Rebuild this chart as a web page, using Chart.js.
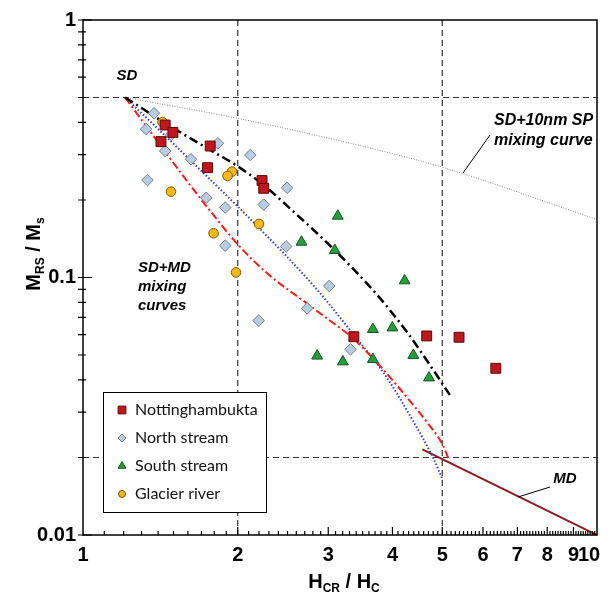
<!DOCTYPE html>
<html>
<head>
<meta charset="utf-8">
<script src="https://cdn.jsdelivr.net/npm/chart.js@4.4.1/dist/chart.umd.min.js"></script>
<style>
  html, body { margin: 0; padding: 0; background: #fff; }
  #wrap { width: 612px; height: 595px; }
</style>
</head>
<body>
<div id="wrap"><canvas id="dayPlot" width="612" height="595"></canvas></div>
<script>
// Day plot: Mrs/Ms against Hcr/Hc, log-log

// ─── Sample data ─────────────────────────────────────────────────────────────
const NOTT_X = [1.445, 1.496, 1.418, 1.768, 1.747, 2.23, 2.247, 3.365, 4.663, 5.39, 6.355];
const NOTT_Y = [0.391, 0.366, 0.337, 0.324, 0.267, 0.238, 0.222, 0.0589, 0.0593, 0.0586, 0.0444];

const NORTH_X = [1.375, 1.327, 1.484, 1.445, 1.83, 1.622, 2.116, 1.335, 1.737, 1.891, 2.247, 2.495, 1.891, 2.484, 3.013, 2.73, 2.197, 3.315];
const NORTH_Y = [0.434, 0.377, 0.358, 0.310, 0.332, 0.288, 0.299, 0.239, 0.204, 0.187, 0.192, 0.223, 0.133, 0.132, 0.0927, 0.0759, 0.068, 0.0526];

const SOUTH_X = [3.131, 2.661, 3.09, 4.224, 3.664, 3.998, 2.855, 3.203, 3.664, 4.392, 4.712];
const SOUTH_Y = [0.1733, 0.1373, 0.1275, 0.0972, 0.0629, 0.0638, 0.0496, 0.0471, 0.0481, 0.0499, 0.0408];

const GLACIER_X = [1.428, 1.949, 1.911, 1.483, 2.2, 1.795, 1.985];
const GLACIER_Y = [0.401, 0.2576, 0.248, 0.2155, 0.1614, 0.1485, 0.1047];

// ─── Mixing curves ───────────────────────────────────────────────────────────
const MIX_BLACK_X = [1.208, 1.465, 1.768, 1.996, 2.233, 2.649, 3.086, 3.737, 4.281, 4.789, 5.171];
const MIX_BLACK_Y = [0.5, 0.391, 0.3127, 0.271, 0.2307, 0.1702, 0.1279, 0.0855, 0.0609, 0.0441, 0.035];

const MIX_RED_X = [1.208, 1.381, 1.566, 1.768, 2.005, 2.315, 2.685, 3.03, 3.365, 3.845, 4.281, 4.684, 5.01, 5.146];
const MIX_RED_Y = [0.5, 0.348, 0.248, 0.1813, 0.1337, 0.1013, 0.0811, 0.0678, 0.0577, 0.0437, 0.034, 0.0272, 0.0224, 0.0197];

const MIX_BLUE_X = [1.208, 1.413, 1.653, 1.996, 2.454, 2.858, 3.365, 3.845, 4.398, 4.789, 5.01];
const MIX_BLUE_Y = [0.5, 0.3707, 0.2735, 0.1894, 0.1245, 0.0894, 0.0598, 0.0426, 0.0275, 0.0201, 0.0164];

const SP_X = [1.208, 2.0, 3.315, 5.0, 10];
const SP_Y = [0.5, 0.415, 0.332, 0.268, 0.168];

const MD_X = [4.574, 10];
const MD_Y = [0.0215, 0.01];

// ─── Axes ────────────────────────────────────────────────────────────────────
const X_MAJOR = [1, 2, 3, 4, 5, 6, 7, 8, 9, 10];
const Y_MAJOR = [0.01, 0.1, 1];
const Y_LABELS = ['0.01', '0.1', '1'];
const REF_X = [2, 5];        // SD / PSD / MD boundaries
const REF_Y = [0.5, 0.02];

const LEGEND = ['Nottinghambukta', 'North stream', 'South stream', 'Glacier river'];

const pts = (xs, ys) => xs.map((x, i) => ({ x, y: ys[i] }));

const BOLD = '"Liberation Sans", Arial, sans-serif';

function drawMarker(ctx, style, x, y, r, fill, stroke) {
  ctx.beginPath();
  if (style === 'rect') {
    const s = r * Math.SQRT1_2;
    ctx.rect(x - s, y - s, 2 * s, 2 * s);
  } else if (style === 'rectRot') {
    ctx.moveTo(x, y - r); ctx.lineTo(x + r, y); ctx.lineTo(x, y + r); ctx.lineTo(x - r, y);
    ctx.closePath();
  } else if (style === 'triangle') {
    for (let k = 0; k < 3; k++) {
      const a = k * 2 * Math.PI / 3;
      const px = x + Math.sin(a) * r, py = y - Math.cos(a) * r;
      k ? ctx.lineTo(px, py) : ctx.moveTo(px, py);
    }
    ctx.closePath();
  } else {
    ctx.arc(x, y, r, 0, Math.PI * 2);
  }
  ctx.fillStyle = fill; ctx.fill();
  ctx.lineWidth = 1; ctx.strokeStyle = stroke; ctx.stroke();
}

// text with subscripts, parts = [[text, isSub], ...], centred on x
function drawSubText(ctx, parts, x, y, size) {
  const big = `bold ${size}px ${BOLD}`, small = `bold ${Math.round(size * 0.62)}px ${BOLD}`;
  let w = 0;
  parts.forEach(([t, sub]) => { ctx.font = sub ? small : big; w += ctx.measureText(t).width; });
  let cx = x - w / 2;
  ctx.textAlign = 'left';
  ctx.textBaseline = 'alphabetic';
  parts.forEach(([t, sub]) => {
    ctx.font = sub ? small : big;
    ctx.fillText(t, cx, y + (sub ? 4 : 0));
    cx += ctx.measureText(t).width;
  });
}

const dayPlotDecor = {
  id: 'dayPlotDecor',
  beforeDatasetsDraw(chart) {
    const { ctx, chartArea: a, scales: { x, y } } = chart;
    ctx.save();
    ctx.strokeStyle = '#333';
    ctx.lineWidth = 1.2;
    ctx.setLineDash([6, 4]);
    ctx.beginPath();
    REF_X.forEach(v => { const p = x.getPixelForValue(v); ctx.moveTo(p, a.top); ctx.lineTo(p, a.bottom); });
    REF_Y.forEach(v => { const p = y.getPixelForValue(v); ctx.moveTo(a.left, p); ctx.lineTo(a.right, p); });
    ctx.stroke();
    ctx.restore();
  },
  afterDatasetsDraw(chart) {
    const { ctx, chartArea: a, scales: { x, y } } = chart;
    ctx.save();

    // frame
    ctx.strokeStyle = '#000';
    ctx.lineWidth = 1.5;
    ctx.strokeRect(a.left, a.top, a.right - a.left, a.bottom - a.top);

    // ticks
    ctx.lineWidth = 1.2;
    ctx.beginPath();
    for (let d = 1; d < 10; d++) {
      for (let k = 1; k < 10; k++) {
        const p = x.getPixelForValue(d + k / 10);
        ctx.moveTo(p, a.bottom); ctx.lineTo(p, a.bottom - 4);
      }
      if (d > 1) { const p = x.getPixelForValue(d); ctx.moveTo(p, a.bottom); ctx.lineTo(p, a.bottom - 8); }
    }
    [0.01, 0.1].forEach(dec => {
      for (let k = 2; k < 10; k++) {
        const p = y.getPixelForValue(dec * k);
        ctx.moveTo(a.left - 5, p); ctx.lineTo(a.left + 3, p);
      }
    });
    Y_MAJOR.forEach(v => { const p = y.getPixelForValue(v); ctx.moveTo(a.left - 5, p); ctx.lineTo(a.left + 9, p); });
    ctx.stroke();

    // tick labels
    ctx.fillStyle = '#000';
    ctx.font = `bold 20px ${BOLD}`;
    ctx.textAlign = 'right';
    ctx.textBaseline = 'middle';
    Y_MAJOR.forEach((v, i) => ctx.fillText(Y_LABELS[i], a.left - 7, y.getPixelForValue(v)));
    ctx.textAlign = 'center';
    X_MAJOR.forEach(v => {
      const p = x.getPixelForValue(v) - (v === 10 ? 8 : 0);
      ctx.fillText(String(v), p, a.bottom + 20);
    });

    // axis titles
    drawSubText(ctx, [['H', false], ['CR', true], [' / H', false], ['C', true]], 344, 588, 20);
    ctx.save();
    ctx.translate(40, 254);
    ctx.rotate(-Math.PI / 2);
    drawSubText(ctx, [['M', false], ['RS', true], [' / M', false], ['s', true]], 0, 0, 20);
    ctx.restore();

    // annotations
    ctx.font = `italic bold 15px ${BOLD}`;
    ctx.textAlign = 'center';
    ctx.textBaseline = 'middle';
    ctx.fillText('SD', 127, 76);
    ctx.fillText('MD', 565, 479);
    ctx.textAlign = 'left';
    ctx.fillText('SD+MD', 138, 268);
    ctx.fillText('mixing', 138, 287);
    ctx.fillText('curves', 138, 306);
    ctx.font = `italic bold 16px ${BOLD}`;
    ctx.fillText('SD+10nm SP', 494, 121);
    ctx.fillText('mixing curve', 494, 141);
    ctx.lineWidth = 1;
    ctx.beginPath();
    ctx.moveTo(490, 135); ctx.lineTo(463, 173);
    ctx.moveTo(518, 497); ctx.lineTo(550, 487);
    ctx.stroke();

    // legend
    ctx.fillStyle = '#fff';
    ctx.fillRect(103, 392, 163, 120);
    ctx.strokeStyle = '#000';
    ctx.lineWidth = 1;
    ctx.strokeRect(103.5, 392.5, 163, 120);
    ctx.font = '16px Lato, "Open Sans", sans-serif';
    ctx.textAlign = 'left';
    ctx.textBaseline = 'middle';
    const sizes = [5.5, 4, 4.5, 3.5];
    LEGEND.forEach((name, i) => {
      const ds = chart.data.datasets[i];
      const yy = 410 + i * 28;
      drawMarker(ctx, ds.pointStyle, 122, yy, sizes[i], ds.backgroundColor, ds.borderColor);
      ctx.fillStyle = '#111';
      ctx.fillText(name, 135, yy);
    });

    ctx.restore();
  }
};

const curve = (xs, ys, color, width, dash) => ({
  type: 'line',
  data: pts(xs, ys),
  borderColor: color,
  borderWidth: width,
  borderDash: dash,
  pointRadius: 0,
  fill: false,
  showLine: true,
  cubicInterpolationMode: 'monotone',
});

new Chart(document.getElementById('dayPlot'), {
  type: 'scatter',
  data: {
    datasets: [
      { label: LEGEND[0], data: pts(NOTT_X, NOTT_Y), pointStyle: 'rect', pointRadius: 7,
        backgroundColor: '#C0161C', borderColor: '#5A0A0A', borderWidth: 1 },
      { label: LEGEND[1], data: pts(NORTH_X, NORTH_Y), pointStyle: 'rectRot', pointRadius: 5.8,
        backgroundColor: '#B8CCE4', borderColor: '#7A7A7A', borderWidth: 1 },
      { label: LEGEND[2], data: pts(SOUTH_X, SOUTH_Y), pointStyle: 'triangle', pointRadius: 6.3,
        backgroundColor: '#1FA23A', borderColor: '#1C4F22', borderWidth: 1 },
      { label: LEGEND[3], data: pts(GLACIER_X, GLACIER_Y), pointStyle: 'circle', pointRadius: 4.8,
        backgroundColor: '#F5B81A', borderColor: '#7A5A00', borderWidth: 1 },
      curve(MIX_BLACK_X, MIX_BLACK_Y, '#000', 2.5, [9, 4, 2, 4]),
      curve(MIX_RED_X, MIX_RED_Y, '#FF1A1A', 2, [8, 3, 2, 3]),
      curve(MIX_BLUE_X, MIX_BLUE_Y, '#2F3FC8', 2, [1.5, 2]),
      curve(SP_X, SP_Y, '#8A8A8A', 1, [1, 1.5]),
      curve(MD_X, MD_Y, '#8B1A1A', 2, []),
    ],
  },
  options: {
    responsive: false,
    animation: false,
    layout: { padding: { top: 20, right: 15, left: 0, bottom: 0 } },
    plugins: { legend: { display: false }, tooltip: { enabled: false } },
    scales: {
      x: {
        type: 'logarithmic', min: 1, max: 10,
        ticks: { display: false }, grid: { display: false }, border: { display: false },
        afterFit: s => { s.height = 60; },
      },
      y: {
        type: 'logarithmic', min: 0.01, max: 1,
        ticks: { display: false }, grid: { display: false }, border: { display: false },
        afterFit: s => { s.width = 83; },
      },
    },
  },
  plugins: [dayPlotDecor],
});
</script>
</body>
</html>
